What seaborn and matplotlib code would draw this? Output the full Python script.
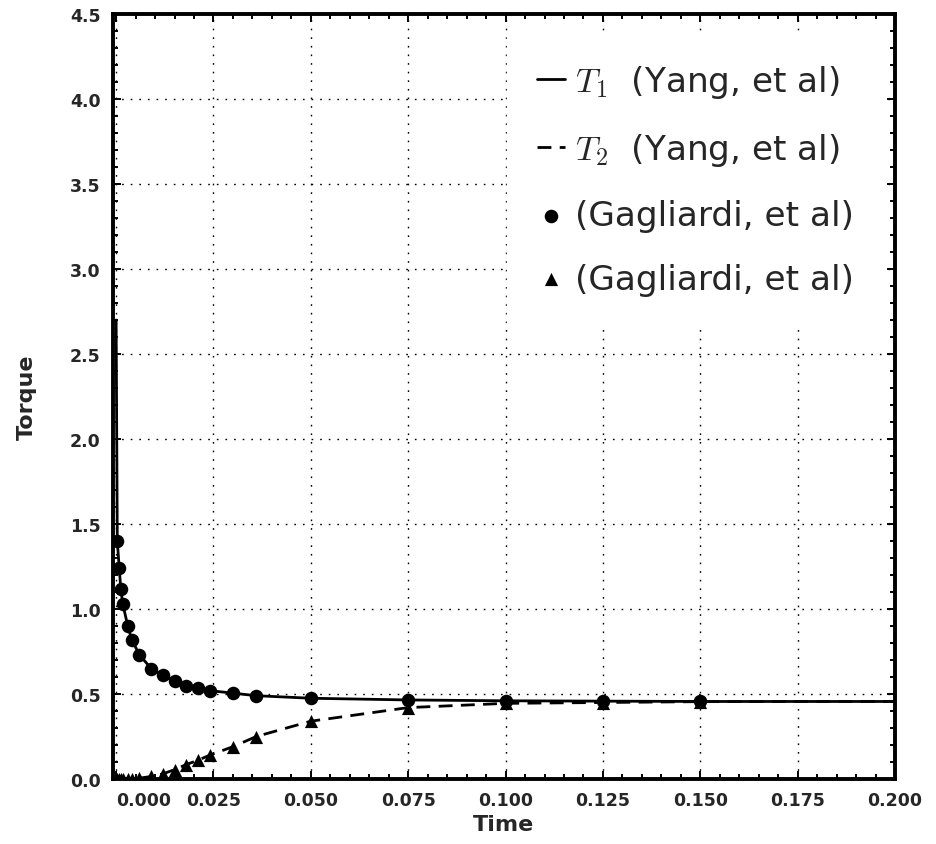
import numpy as np
import matplotlib
matplotlib.use('Agg')
import matplotlib.pyplot as plt
from matplotlib.ticker import MultipleLocator, FormatStrFormatter
import seaborn as sns

# Gagliardi et al. sample points
t_points = [0.0003, 0.0008, 0.0012, 0.0017, 0.003, 0.004, 0.006, 0.009, 0.012, 0.015,
            0.018, 0.021, 0.024, 0.030, 0.036, 0.050, 0.075, 0.100, 0.125, 0.150]
t1_points = [1.40, 1.24, 1.12, 1.03, 0.90, 0.82, 0.73, 0.65, 0.61, 0.575,
             0.55, 0.535, 0.52, 0.505, 0.49, 0.475, 0.465, 0.46, 0.458, 0.456]
t2_points = [0.0, 0.0, 0.0, 0.0, 0.0, 0.0, 0.005, 0.015, 0.03, 0.055,
             0.085, 0.11, 0.14, 0.19, 0.25, 0.34, 0.42, 0.445, 0.45, 0.455]

# Yang et al. curves
t_line = [0.0, 0.0003, 0.0008, 0.0012, 0.0017, 0.003, 0.004, 0.006, 0.009, 0.012, 0.015,
          0.018, 0.021, 0.024, 0.030, 0.036, 0.050, 0.075, 0.100, 0.125, 0.150, 0.175, 0.200]
t1_line = [2.7, 1.40, 1.24, 1.12, 1.03, 0.90, 0.82, 0.73, 0.65, 0.61, 0.575,
           0.55, 0.535, 0.52, 0.505, 0.49, 0.475, 0.465, 0.46, 0.458, 0.456, 0.456, 0.456]
t2_line = [0.0, 0.0, 0.0, 0.0, 0.0, 0.0, 0.0, 0.005, 0.015, 0.03, 0.055,
           0.085, 0.11, 0.14, 0.19, 0.25, 0.34, 0.42, 0.445, 0.45, 0.455, 0.456, 0.456]

x_ticks = [0.0, 0.025, 0.05, 0.075, 0.1, 0.125, 0.15, 0.175, 0.2]
y_ticks = [0.0, 0.5, 1.0, 1.5, 2.0, 2.5, 3.0, 3.5, 4.0, 4.5]

labels = [r'$T_1$  (Yang, et al)', r'$T_2$  (Yang, et al)',
          '(Gagliardi, et al)', '(Gagliardi, et al)']

sns.set_style('ticks')
plt.rcParams['font.family'] = ['DejaVu Sans']
plt.rcParams['mathtext.fontset'] = 'cm'

fig = plt.figure(figsize=(9.37, 8.45), dpi=100)
ax = fig.add_axes([113 / 937, 65 / 845, 782 / 937, 765 / 845])

sns.lineplot(x=t_line, y=t1_line, color='black', lw=2.0, ax=ax, label=labels[0])
sns.lineplot(x=t_line, y=t2_line, color='black', lw=2.0, ls=(0, (5, 3)), ax=ax, label=labels[1])
sns.scatterplot(x=t_points, y=t1_points, color='black', marker='o', s=95,
                linewidth=0, ax=ax, label=labels[2], zorder=3)
sns.scatterplot(x=t_points, y=t2_points, color='black', marker='^', s=90,
                linewidth=0, ax=ax, label=labels[3], zorder=3)

ax.set_xlim(-0.0008, 0.2)
ax.set_ylim(0, 4.5)
ax.set_xticks(x_ticks)
ax.set_yticks(y_ticks)
ax.xaxis.set_minor_locator(MultipleLocator(0.005))
ax.yaxis.set_minor_locator(MultipleLocator(0.1))
ax.xaxis.set_major_formatter(FormatStrFormatter('%.3f'))
ax.yaxis.set_major_formatter(FormatStrFormatter('%.1f'))

ax.grid(True, which='major', color='black', lw=1.0, ls=(0, (1.2, 5)))
ax.tick_params(which='both', direction='in', top=True, right=True, width=1.4, color='black')
ax.tick_params(which='major', length=6)
ax.tick_params(which='minor', length=3.5)
ax.tick_params(axis='x', pad=9)
ax.tick_params(axis='y', pad=9)
for lab in ax.get_xticklabels() + ax.get_yticklabels():
    lab.set_fontweight('bold')
    lab.set_fontsize(12.5)
ax.get_xticklabels()[0].set_ha('left')

for spine in ax.spines.values():
    spine.set_linewidth(2.8)
    spine.set_color('black')

ax.set_xlabel('Time', fontsize=16, fontweight='bold', labelpad=3)
ax.set_ylabel('Torque', fontsize=16, fontweight='bold', labelpad=24)

handles, _ = ax.get_legend_handles_labels()
leg = ax.legend(handles, labels, loc='upper right',
                bbox_to_anchor=(1 - 10 / 782, 1 - 18 / 765), borderaxespad=0,
                fontsize=24.7, frameon=True, fancybox=False, framealpha=1,
                edgecolor='white', facecolor='white',
                handlelength=0.8, handletextpad=0.3, labelspacing=0.9,
                borderpad=0.9, markerscale=1.0)

fig.savefig('out.png', dpi=100)
